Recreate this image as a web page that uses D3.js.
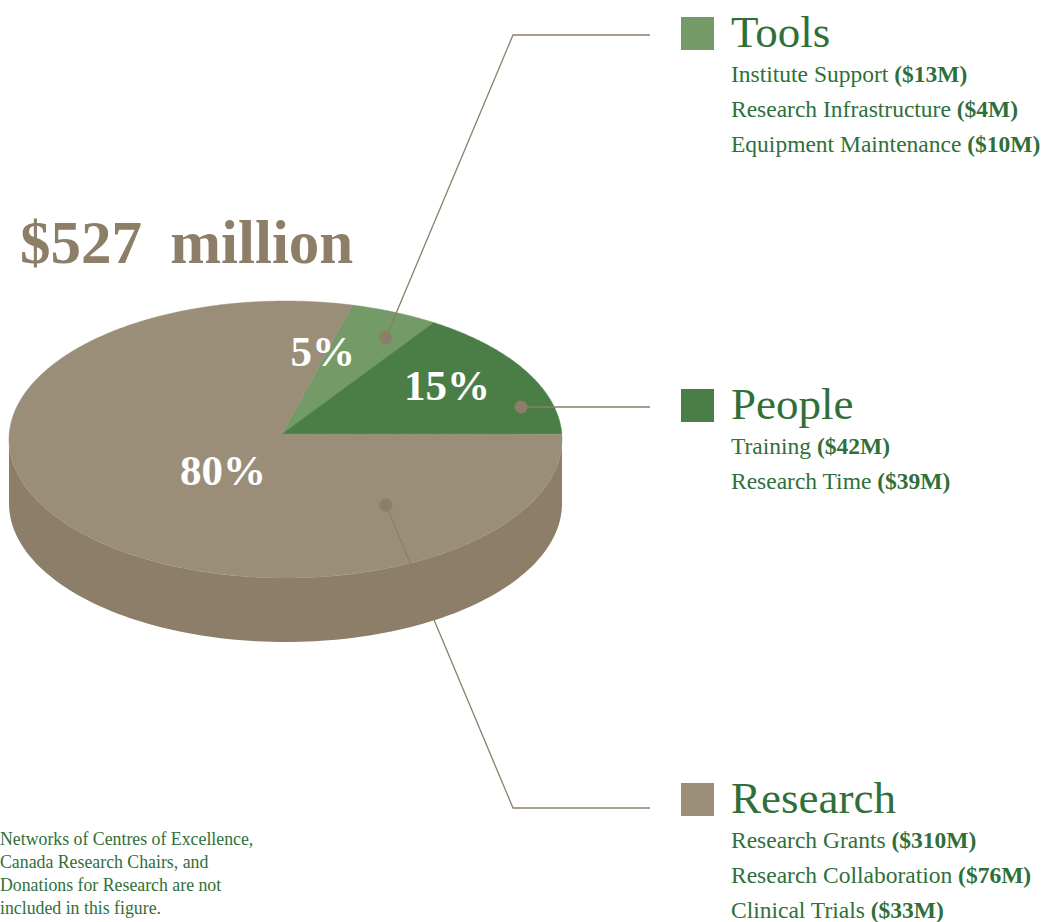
<!DOCTYPE html>
<html>
<head>
<meta charset="utf-8">
<script src="https://cdn.jsdelivr.net/npm/d3@7"></script>
<style>
  html, body { margin: 0; padding: 0; background: #ffffff; }
  svg { display: block; }
</style>
</head>
<body>
<svg id="chart" width="1051" height="922"></svg>
<script>
// ---------- DATA ----------
const categories = ["Tools", "People", "Research"];
const percentLabels = ["5%", "15%", "80%"];
const toolsItems = ["Institute Support", "Research Infrastructure", "Equipment Maintenance"];
const toolsValues = [13, 4, 10];
const peopleItems = ["Training", "Research Time"];
const peopleValues = [42, 39];
const researchItems = ["Research Grants", "Research Collaboration", "Clinical Trials"];
const researchValues = [310, 76, 33];
const totalLabel = "$527 million";
const footnoteLines = [
  "Networks of Centres of Excellence,",
  "Canada Research Chairs, and",
  "Donations for Research are not",
  "included in this figure."
];

// ---------- STYLE / LAYOUT ----------
const topColors = ["#739a67", "#4a7e46", "#9a8e78"];
const sideColors = ["#5f8455", "#3b6a38", "#8c7e69"];
const textGreen = "#2f6f39";
const lineColor = "#8c7e69";
const serif = "'Liberation Serif', 'Times New Roman', serif";

const cx = 285.5, cy = 439.5, rx = 276.5, ry = 138.5, depth = 64;
const apex = [282, 434];
const startDeg = 14;

// label anchor (angle deg, radius fraction)
const labelAnchors = [[12, 0.646], [56.5, 0.70], [225, 0.32]];
const dotAnchors = [[26.3, 0.818], [74.6, 0.884], [142.5, 0.596]];
const legendBaselines = [47, 419, 813];
const leaderY = [35, 407, 808];
const elbowX = 513, leaderEndX = 650;

const groups = [
  { name: categories[0], items: toolsItems, values: toolsValues },
  { name: categories[1], items: peopleItems, values: peopleValues },
  { name: categories[2], items: researchItems, values: researchValues }
];
groups.forEach(g => g.total = d3.sum(g.values));

const svg = d3.select("#chart");
const rad = d => d * Math.PI / 180;
const pt = (a, f = 1, dy = 0) => [cx + f * rx * Math.sin(a), cy - f * ry * Math.cos(a) + dy];

const pie = d3.pie().sort(null).value(d => d.total)
  .startAngle(rad(startDeg)).endAngle(rad(startDeg) + 2 * Math.PI);
const arcs = pie(groups);

// ---------- SIDES (front half) ----------
function sidePath(a0, a1) {
  const segs = [];
  for (let k = 0; k < 2; k++) {
    const f0 = Math.PI / 2 + k * 2 * Math.PI, f1 = 1.5 * Math.PI + k * 2 * Math.PI;
    const s = Math.max(a0, f0), e = Math.min(a1, f1);
    if (e > s) segs.push([s, e]);
  }
  return segs.map(([s, e]) => {
    const p = d3.path();
    const n = 120;
    for (let i = 0; i <= n; i++) {
      const a = s + (e - s) * i / n;
      const q = pt(a);
      i === 0 ? p.moveTo(q[0], q[1]) : p.lineTo(q[0], q[1]);
    }
    for (let i = n; i >= 0; i--) {
      const a = s + (e - s) * i / n;
      const q = pt(a, 1, depth);
      p.lineTo(q[0], q[1]);
    }
    p.closePath();
    return p.toString();
  }).join(" ");
}

svg.append("g").selectAll("path").data(arcs).join("path")
  .attr("d", d => sidePath(d.startAngle, d.endAngle))
  .attr("fill", (d, i) => sideColors[i]);

// ---------- TOP FACES ----------
function topPath(a0, a1) {
  const p = d3.path();
  p.moveTo(apex[0], apex[1]);
  const n = Math.max(4, Math.ceil((a1 - a0) / rad(0.5)));
  for (let i = 0; i <= n; i++) {
    const q = pt(a0 + (a1 - a0) * i / n);
    p.lineTo(q[0], q[1]);
  }
  p.closePath();
  return p.toString();
}
svg.append("g").selectAll("path").data(arcs).join("path")
  .attr("d", d => topPath(d.startAngle, d.endAngle))
  .attr("fill", (d, i) => topColors[i])
  .attr("stroke", (d, i) => topColors[i])
  .attr("stroke-width", 0.5);

// ---------- PERCENT LABELS ----------
svg.append("g").selectAll("text").data(percentLabels).join("text")
  .attr("x", (d, i) => pt(rad(labelAnchors[i][0]), labelAnchors[i][1])[0])
  .attr("y", (d, i) => pt(rad(labelAnchors[i][0]), labelAnchors[i][1])[1] + 14)
  .attr("text-anchor", "middle")
  .attr("font-family", serif)
  .attr("font-weight", "bold")
  .attr("font-size", 43)
  .attr("fill", "#ffffff")
  .text(d => d);

// ---------- LEADER LINES + DOTS ----------
const lead = svg.append("g");
groups.forEach((g, i) => {
  const d = pt(rad(dotAnchors[i][0]), dotAnchors[i][1]);
  let pts;
  if (Math.abs(d[1] - leaderY[i]) < 3) pts = [[d[0], leaderY[i]], [leaderEndX, leaderY[i]]];
  else pts = [d, [elbowX, leaderY[i]], [leaderEndX, leaderY[i]]];
  lead.append("path")
    .attr("d", d3.line()(pts))
    .attr("fill", "none")
    .attr("stroke", lineColor)
    .attr("stroke-width", 1.3);
  lead.append("circle")
    .attr("cx", d[0]).attr("cy", Math.abs(d[1] - leaderY[i]) < 3 ? leaderY[i] : d[1])
    .attr("r", 6.5)
    .attr("fill", lineColor);
});

// ---------- TOTAL TITLE ----------
svg.append("text")
  .attr("x", 20).attr("y", 263)
  .attr("font-family", serif)
  .attr("font-weight", "bold")
  .attr("font-size", 61)
  .attr("word-spacing", 13)
  .attr("fill", "#8c7e67")
  .text(totalLabel);

// ---------- LEGEND ----------
const leg = svg.append("g");
groups.forEach((g, i) => {
  const b = legendBaselines[i];
  leg.append("rect")
    .attr("x", 681).attr("y", b - 30)
    .attr("width", 33).attr("height", 33)
    .attr("fill", topColors[i]);
  leg.append("text")
    .attr("x", 731).attr("y", b)
    .attr("font-family", serif)
    .attr("font-size", 45)
    .attr("fill", textGreen)
    .text(g.name);
  g.items.forEach((it, j) => {
    const t = leg.append("text")
      .attr("x", 731).attr("y", b + 35 + j * 35)
      .attr("font-family", serif)
      .attr("font-size", 23.5)
      .attr("fill", textGreen);
    t.append("tspan").text(it + " ");
    t.append("tspan").attr("font-weight", "bold").text("($" + g.values[j] + "M)");
  });
});

// ---------- FOOTNOTE ----------
svg.append("g").selectAll("text").data(footnoteLines).join("text")
  .attr("x", 0)
  .attr("y", (d, i) => 845 + i * 23)
  .attr("font-family", serif)
  .attr("font-size", 17.8)
  .attr("fill", textGreen)
  .text(d => d);
</script>
</body>
</html>
